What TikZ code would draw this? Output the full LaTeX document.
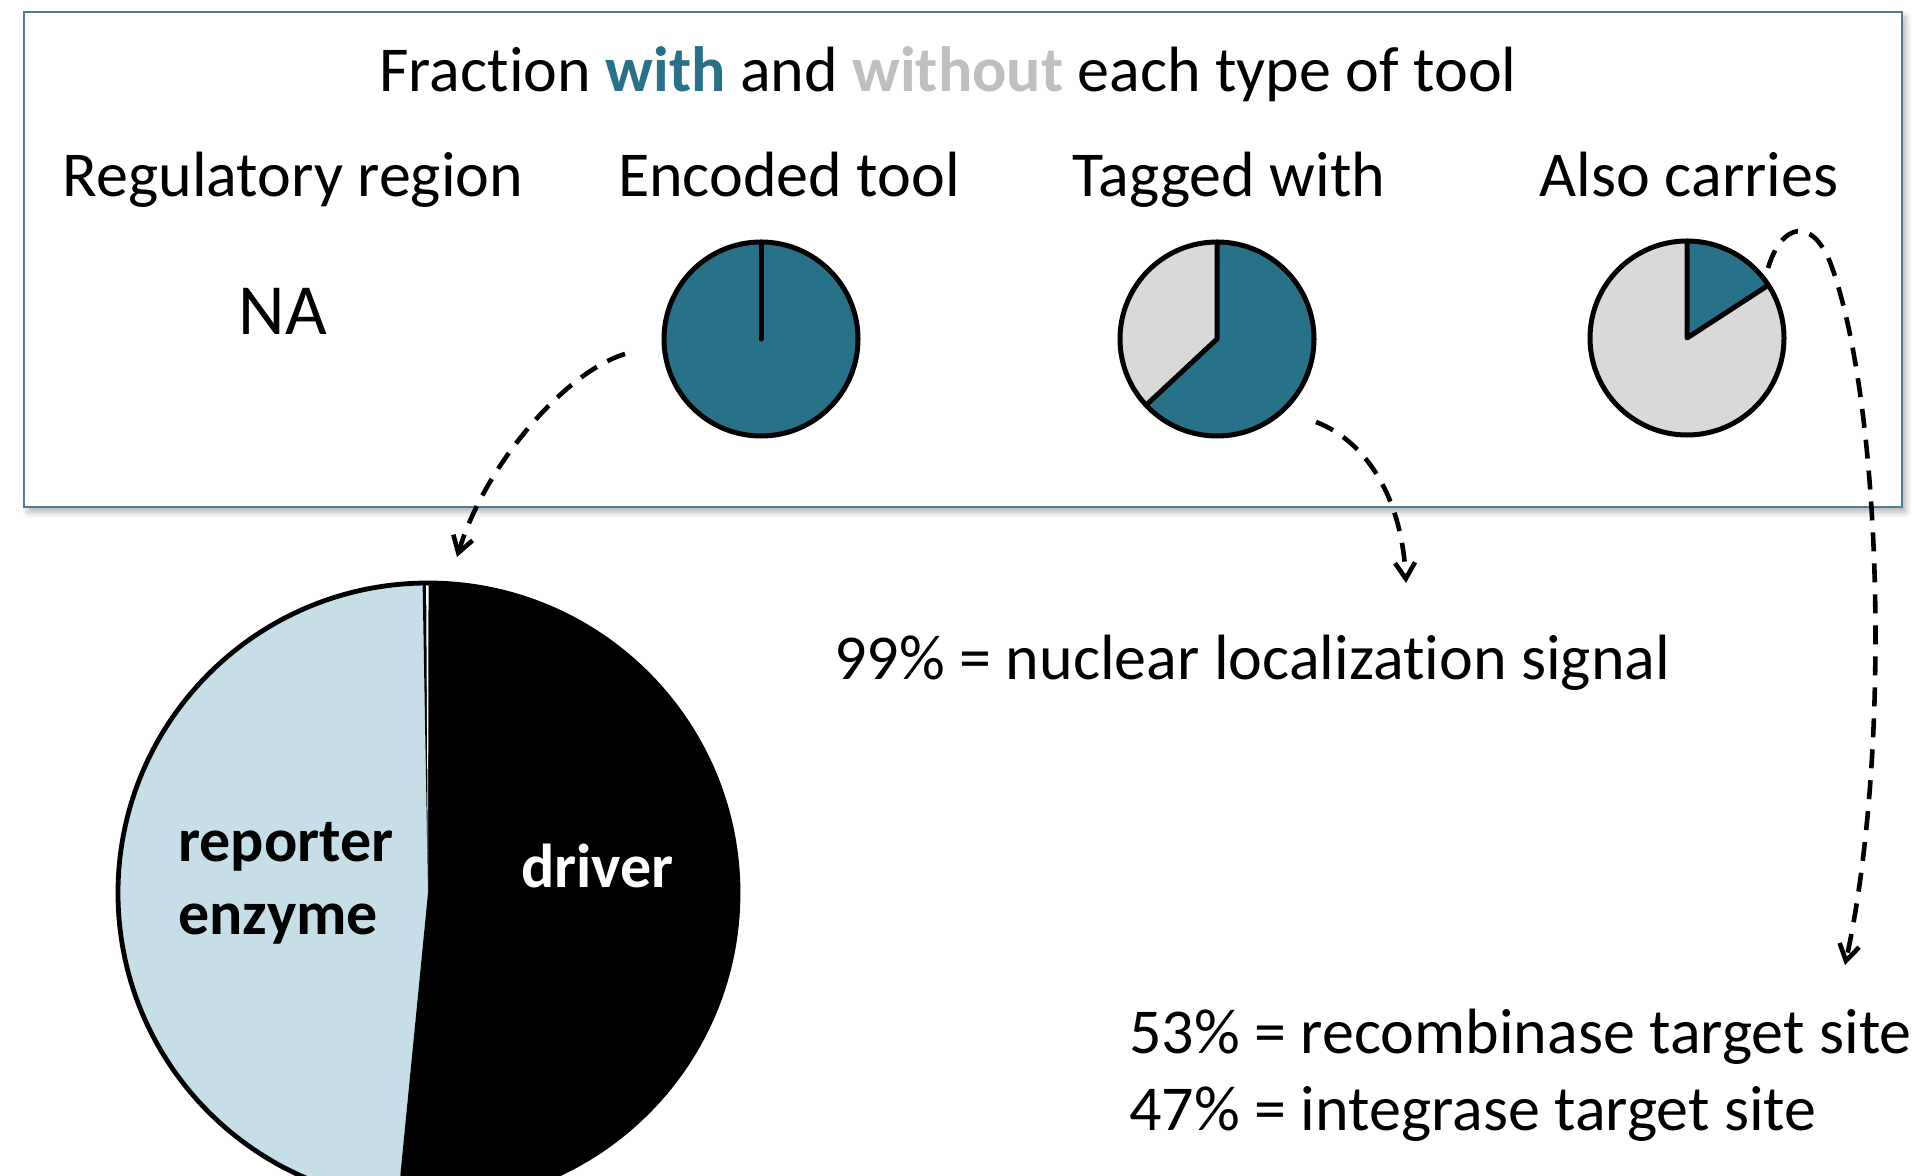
\documentclass[tikz,border=0pt]{standalone}
\usepackage{fontspec}
\setmainfont{Carlito}[Ligatures=NoCommon]
\usetikzlibrary{arrows.meta,shadows.blur}
\definecolor{tealc}{RGB}{40,114,137}
\definecolor{grayc}{RGB}{217,217,217}
\definecolor{graytxt}{RGB}{191,191,191}
\definecolor{lblue}{RGB}{197,222,232}
\definecolor{boxc}{RGB}{84,122,150}
\begin{document}
\begin{tikzpicture}[x=0.5pt,y=-0.5pt,
  txt/.style={inner sep=0pt, font=\fontsize{32}{38}\selectfont},
  bigtxt/.style={inner sep=0pt, font=\fontsize{36}{42}\selectfont},
  boldtxt/.style={inner sep=0pt, font=\fontsize{31}{37}\selectfont\bfseries},
  pieline/.style={line width=2.5pt, line cap=round, line join=round},
  conn/.style={draw=black, line width=2.3pt, dash pattern=on 9.5pt off 6pt,
    -{Straight Barb[length=8pt,width=10pt,line width=2.3pt]}},
  framebox/.style={draw=boxc, line width=1.2pt, fill=white,
    blur shadow={shadow xshift=2pt, shadow yshift=-2.5pt, shadow blur radius=3pt, shadow opacity=30}}
]
\useasboundingbox (0,0) rectangle (1914,1176);

% frame
\draw[framebox] (24,12) rectangle (1902,507);

% title and headings
\node[txt, anchor=base] (title) at (948,92) {Fraction \textbf{\color{tealc}with} and \textbf{\color{graytxt}without} each type of tool};
\node[txt, anchor=base] (hreg) at (293,197) {Regulatory region};
\node[txt, anchor=base] (henc) at (789,197) {Encoded tool};
\node[txt, anchor=base] (htag) at (1229,197) {Tagged with};
\node[txt, anchor=base] (halso) at (1689,197) {Also carries};
\node[bigtxt, anchor=base] (na) at (283,335) {NA};

% pie 1: encoded tool
\coordinate (p1) at (761,339);
\fill[tealc] (p1) circle[radius=48.5pt];
\draw[pieline] (p1) circle[radius=48.5pt];
\draw[pieline] (p1) -- ++(90:48.5pt);

% pie 2: tagged with
\coordinate (p2) at (1217,339);
\fill[grayc] (p2) circle[radius=48.5pt];
\fill[tealc] (p2) -- ++(90:48.5pt) arc[start angle=90, end angle=-137, radius=48.5pt] -- cycle;
\draw[pieline] (p2) circle[radius=48.5pt];
\draw[pieline] (p2) ++(90:48.5pt) -- (p2) -- ++(223:48.5pt);

% pie 3: also carries
\coordinate (p3) at (1687,338);
\fill[grayc] (p3) circle[radius=48.5pt];
\fill[tealc] (p3) -- ++(90:48.5pt) arc[start angle=90, end angle=33, radius=48.5pt] -- cycle;
\draw[pieline] (p3) circle[radius=48.5pt];
\draw[pieline] (p3) ++(90:48.5pt) -- (p3) -- ++(33:48.5pt);

% big pie
\coordinate (bp) at (428,893);
\fill[lblue] (bp) -- ++(91:155pt) arc[start angle=91, end angle=264.4, radius=155pt] -- cycle;
\fill[black] (bp) -- ++(-95.6:155pt) arc[start angle=-95.6, end angle=91, radius=155pt] -- cycle;
\fill[white] (bp) -- ++(89.9:155pt) arc[start angle=89.9, end angle=90.35, radius=155pt] -- cycle;
\draw[line width=2.4pt] (bp) circle[radius=155pt];
\node[boldtxt, anchor=base west] (rep) at (178,861) {reporter};
\node[boldtxt, anchor=base west] (enz) at (178,934) {enzyme};
\node[boldtxt, anchor=base west, text=white] (drv) at (521,887) {driver};

% lower texts
\node[txt, anchor=base west] (nls) at (834,679) {99\% = nuclear localization signal};
\node[txt, anchor=base west] (rts) at (1129,1053) {53\% = recombinase target site};
\node[txt, anchor=base west] (its) at (1129,1130) {47\% = integrase target site};

% connectors
\coordinate (a1s) at (625,354);
\coordinate (a1e) at (457,557);
\draw[conn] (a1s) .. controls (565,372) and (485,465) .. (a1e);
\coordinate (a2s) at (1316,422);
\coordinate (a2e) at (1406,583);
\draw[conn] (a2s) .. controls (1368,442) and (1402,500) .. (a2e);
\coordinate (a3s) at (1768,268);
\coordinate (a3m) at (1830,262);
\coordinate (a3e) at (1845,965);
\draw[conn] (a3s) .. controls (1782,222) and (1812,218) .. (a3m) .. controls (1882,400) and (1892,750) .. (a3e);
\end{tikzpicture}
\end{document}
